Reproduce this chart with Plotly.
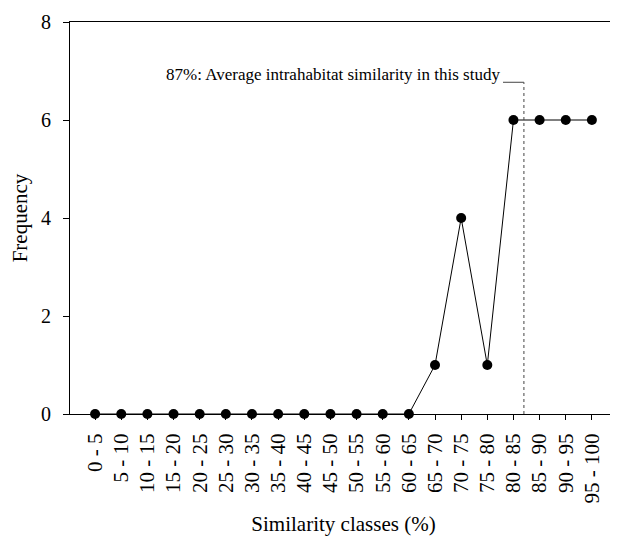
import plotly.graph_objects as go

categories = ["0 - 5", "5 - 10", "10 - 15", "15 - 20", "20 - 25", "25 - 30", "30 - 35",
              "35 - 40", "40 - 45", "45 - 50", "50 - 55", "55 - 60", "60 - 65", "65 - 70",
              "70 - 75", "75 - 80", "80 - 85", "85 - 90", "90 - 95", "95 - 100"]
frequency = [0, 0, 0, 0, 0, 0, 0, 0, 0, 0, 0, 0, 0, 1, 4, 1, 6, 6, 6, 6]
y_ticks = [0, 2, 4, 6, 8]
avg_label = "87%: Average intrahabitat similarity in this study"
avg_pos = 16.4      # position of the 87% marker on the category axis
avg_level = 6.77    # height of the leader line

FONT = "Liberation Serif, Times New Roman, serif"
idx = list(range(len(categories)))

fig = go.Figure()
fig.add_trace(go.Scatter(
    x=idx, y=frequency, mode="lines+markers",
    line=dict(color="black", width=1),
    marker=dict(color="black", size=10),
    cliponaxis=False, showlegend=False,
))

fig.add_shape(type="line", x0=avg_pos, x1=avg_pos, y0=0, y1=avg_level,
              xref="x", yref="y", line=dict(color="#444", width=1, dash="dot"))
fig.add_shape(type="line", x0=avg_pos - 0.8, x1=avg_pos, y0=avg_level, y1=avg_level,
              xref="x", yref="y", line=dict(color="#444", width=1))
fig.add_shape(type="line", x0=1, x1=1, y0=0, y1=1, xref="paper", yref="paper",
              line=dict(color="#ccc", width=1))
fig.add_annotation(x=avg_pos - 0.85, y=avg_level, xref="x", yref="y",
                   text=avg_label, showarrow=False, xanchor="right", yanchor="bottom",
                   yshift=-4, font=dict(family=FONT, size=17, color="black"))

fig.update_layout(
    width=610, height=528,
    margin=dict(l=62, r=1, t=14, b=122, autoexpand=False),
    paper_bgcolor="white", plot_bgcolor="white",
    font=dict(family=FONT, color="black"),
    xaxis=dict(
        range=[-0.96, 19.96], tickmode="array", tickvals=idx, ticktext=categories,
        tickangle=-90, ticks="outside", ticklen=5, tickcolor="black",
        ticklabelstandoff=5, automargin=False,
        showline=True, linecolor="black", linewidth=1, mirror=True,
        showgrid=False, zeroline=False, tickfont=dict(family=FONT, size=21),
        title=dict(text="Similarity classes (%)", font=dict(family=FONT, size=21), standoff=16),
    ),
    yaxis=dict(
        range=[0, 8], tickmode="array", tickvals=y_ticks,
        ticks="outside", ticklen=6, tickcolor="black",
        ticklabelstandoff=8, automargin=False,
        showline=True, linecolor="black", linewidth=1,
        showgrid=False, zeroline=False, tickfont=dict(family=FONT, size=20),
        title=dict(text="Frequency", font=dict(family=FONT, size=21), standoff=10),
    ),
)

fig.write_html("out.html")
